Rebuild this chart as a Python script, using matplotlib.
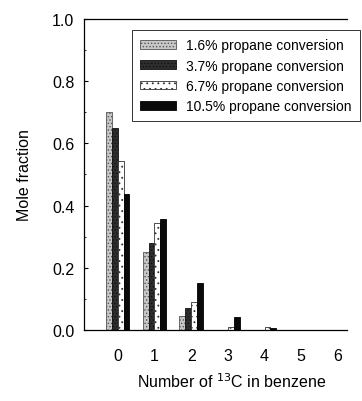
import numpy as np
import matplotlib
matplotlib.use('Agg')
import matplotlib.pyplot as plt

plt.rcParams['font.family'] = ['Liberation Sans', 'DejaVu Sans']
plt.rcParams['hatch.linewidth'] = 0.6

# number of 13C atoms in benzene
n13c = [0, 1, 2, 3, 4, 5, 6]

# mole fractions for each propane conversion
conv_1_6 = [0.700, 0.250, 0.043, 0.000, 0.000, 0.0, 0.0]
conv_3_7 = [0.649, 0.280, 0.070, 0.000, 0.000, 0.0, 0.0]
conv_6_7 = [0.542, 0.343, 0.089, 0.010, 0.008, 0.0, 0.0]
conv_10_5 = [0.438, 0.357, 0.150, 0.040, 0.005, 0.0, 0.0]

labels = ['1.6% propane conversion', '3.7% propane conversion',
          '6.7% propane conversion', '10.5% propane conversion']
series = [conv_1_6, conv_3_7, conv_6_7, conv_10_5]

styles = [
    dict(facecolor='#c8c8c8', edgecolor='#555555', hatch='.....'),
    dict(facecolor='#2e2e2e', edgecolor='#111111', hatch='.....'),
    dict(facecolor='white', edgecolor='#333333', hatch='...'),
    dict(facecolor='#0a0a0a', edgecolor='black', hatch=''),
]

fig = plt.figure(figsize=(3.62, 4.02), dpi=100)
ax = fig.add_axes([0.232, 0.177, 0.727, 0.773])

x = np.array(n13c)
width = 0.16
offsets = [-1.5 * width, -0.5 * width, 0.5 * width, 1.5 * width]
for vals, lab, st, off in zip(series, labels, styles, offsets):
    ax.bar(x + off, vals, width, label=lab, linewidth=0.6, **st)

ax.set_xlim(-0.92, 6.25)
ax.set_ylim(0, 1.0)
ax.set_yticks(np.arange(0, 1.01, 0.2))
ax.set_yticks(np.arange(0.1, 1.0, 0.2), minor=True)
ax.set_yticklabels(['0.0', '0.2', '0.4', '0.6', '0.8', '1.0'])
ax.set_xticks(n13c)
ax.tick_params(axis='y', which='major', direction='in', length=3, labelsize=11.5, pad=7)
ax.tick_params(axis='y', which='minor', direction='in', length=1.5)
ax.tick_params(axis='x', length=0, labelsize=11.5, pad=13)

ax.spines['right'].set_visible(False)
for s in ['left', 'bottom', 'top']:
    ax.spines[s].set_linewidth(0.9)

ax.set_ylabel('Mole fraction', fontsize=11.5)
ax.yaxis.set_label_coords(-0.198, 0.5)
ax.set_xlabel('Number of $^{13}$C in benzene', fontsize=11.5)
ax.xaxis.set_label_coords(0.56, -0.135)

leg = ax.legend(loc='upper right', bbox_to_anchor=(360 / 362, 1 - 31 / 402),
                bbox_transform=fig.transFigure, fontsize=10,
                frameon=True, fancybox=False, edgecolor='black',
                handlelength=2.6, handleheight=0.6, borderpad=0.6,
                labelspacing=0.45, handletextpad=0.7, borderaxespad=0)
leg.get_frame().set_linewidth(0.7)

fig.savefig('out.png', dpi=100)
